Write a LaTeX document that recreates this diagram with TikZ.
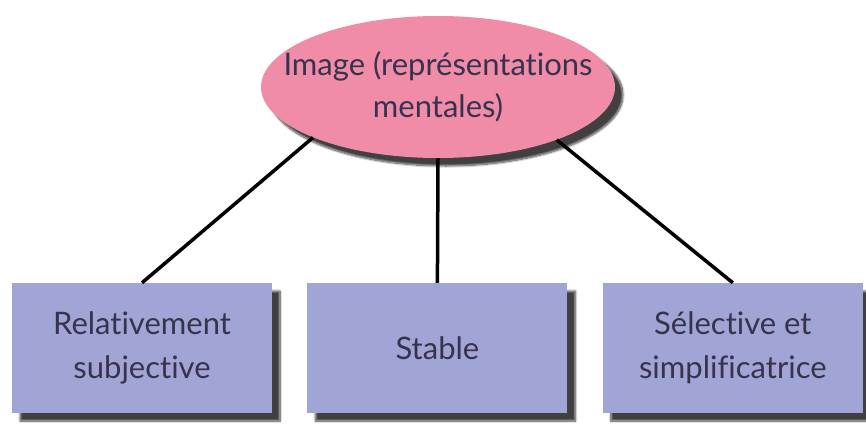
\documentclass[tikz,border=0pt]{standalone}
\usepackage{fontspec}
\setmainfont[Ligatures={NoCommon}]{Lato}
\usetikzlibrary{shapes.geometric, positioning, shadows.blur}
\usepackage{xcolor}
\definecolor{imgpink}{RGB}{240,140,168}
\definecolor{boxblue}{RGB}{161,165,213}
\definecolor{txtgray}{RGB}{55,50,78}

\begin{document}
\begin{tikzpicture}[x=1pt, y=-1pt,
    ombre/.style={blur shadow={shadow xshift=8pt, shadow yshift=-8pt, shadow blur steps=10, shadow opacity=75}},
    caract/.style={rectangle, fill=boxblue, minimum width=260pt, minimum height=130pt, align=center, text=txtgray, font=\fontsize{31}{44}\selectfont, ombre},
    liaison/.style={line width=3.5pt, black}]
    \useasboundingbox (0,0) rectangle (866,428);

    % --- Representation centrale
    \node[ellipse, fill=imgpink, minimum width=354pt, minimum height=142pt, inner xsep=-30pt, inner ysep=0pt, align=center, text=txtgray, font=\fontsize{31}{42}\selectfont, ombre] (img) at (438,87) {Image (représentations\\mentales)};

    % --- Les trois caracteristiques
    \node[caract] (subj) at (142,348) {Relativement\\subjective};
    \node[caract, right=35pt of subj] (stable) {Stable};
    \node[caract, right=35pt of stable] (select) {Sélective et\\simplificatrice};

    % Liaisons
    \draw[liaison] (img.202) -- (subj.north);
    \draw[liaison] (img.south) -- (stable.north);
    \draw[liaison] (img.336) -- (select.north);
\end{tikzpicture}
\end{document}
